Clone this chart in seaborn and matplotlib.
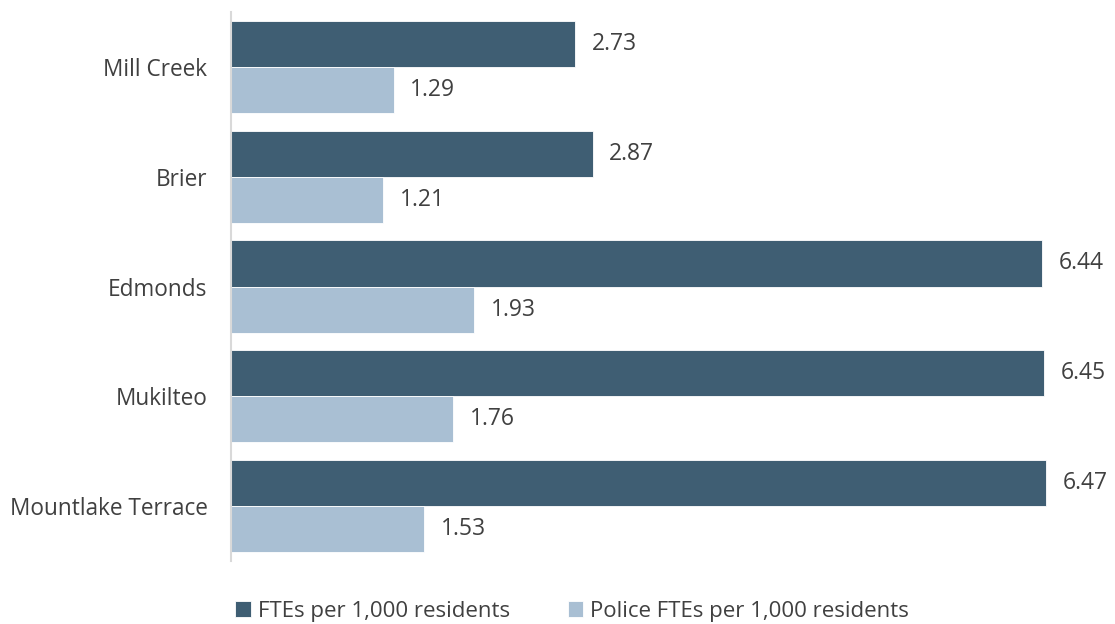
import matplotlib
matplotlib.use("Agg")
import matplotlib.pyplot as plt
import seaborn as sns
import pandas as pd

cities = ["Mill Creek", "Brier", "Edmonds", "Mukilteo", "Mountlake Terrace"]
series = ["FTEs per 1,000 residents", "Police FTEs per 1,000 residents"]
fte = [2.73, 2.87, 6.44, 6.45, 6.47]
police = [1.29, 1.21, 1.93, 1.76, 1.53]

df = pd.DataFrame({
    "city": cities * 2,
    "series": [series[0]] * len(cities) + [series[1]] * len(cities),
    "value": fte + police,
})

sns.set_theme(style="white")
plt.rcParams["font.family"] = ["Open Sans", "DejaVu Sans"]

fig = plt.figure(figsize=(11.15, 6.24), dpi=100)
ax = fig.add_axes([231 / 1115, 1 - 561 / 624, (1113 - 231) / 1115, (561 - 12) / 624])

palette = {series[0]: "#3f5e73", series[1]: "#a9bfd3"}
sns.barplot(data=df, y="city", x="value", hue="series", order=cities,
            hue_order=series, palette=palette, orient="h", width=0.84,
            saturation=1, ax=ax, edgecolor="white", linewidth=0.6)

for cont in ax.containers:
    ax.bar_label(cont, fmt="%.2f", padding=12, fontsize=16.5, color="#404040")

ax.set_xlim(0, 7)
ax.set_ylim(len(cities) - 0.5, -0.5)
ax.set_xlabel("")
ax.set_ylabel("")
ax.set_xticks([])
ax.tick_params(axis="y", length=0, pad=17, labelsize=16.3, labelcolor="#404040")
for s in ["top", "right", "bottom"]:
    ax.spines[s].set_visible(False)
ax.spines["left"].set_color("#d9d9d9")
ax.spines["left"].set_linewidth(1.5)

handles, labels = ax.get_legend_handles_labels()
ax.legend_.remove()
fig.legend(handles, labels, loc="center", bbox_to_anchor=(572 / 1115, 1 - 611 / 624),
           ncol=2, frameon=False, fontsize=16, handlelength=0.7, handleheight=0.7,
           handletextpad=0.3, columnspacing=2.6, labelcolor="#404040")

fig.savefig("out.png", dpi=100)
